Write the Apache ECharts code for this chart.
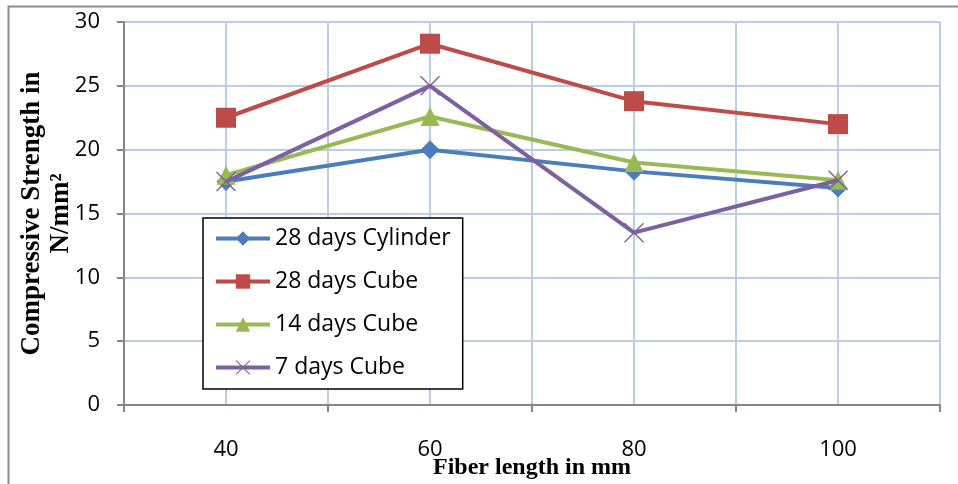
<!DOCTYPE html>
<html><head><meta charset="utf-8">
<script src="https://cdn.jsdelivr.net/npm/echarts@6/dist/echarts.min.js"></script>
<style>html,body{margin:0;padding:0;background:#fff}#c{width:958px;height:484px}</style>
</head><body><div id="c"></div>
<script>
const fiberLengths = [40, 60, 80, 100];
const cyl28 = [17.5, 20.0, 18.3, 17.0];
const cube28 = [22.5, 28.3, 23.8, 22.0];
const cube14 = [18.0, 22.6, 19.0, 17.6];
const cube7 = [17.5, 25.0, 13.5, 17.6];
const seriesNames = ['28 days Cylinder', '28 days Cube', '14 days Cube', '7 days Cube'];
const yTicks = [0, 5, 10, 15, 20, 25, 30];
const xBoundaryTicks = [30, 50, 70, 90, 110];

const colors = ['#4a7ebb', '#be4b48', '#98b954', '#7d60a0'];
const xPath = 'path://M0,1L1,0L10,9L19,0L20,1L11,10L20,19L19,20L10,11L1,20L0,19L9,10Z';
const symbols = ['diamond', 'rect', 'triangle', xPath];
const sizes = [19, 20, 19, 20];
const datasets = [cyl28, cube28, cube14, cube7];
const sansFont = 'Open Sans';

const chart = echarts.init(document.getElementById('c'));
chart.setOption({
  animation: false,
  graphic: [{
    type: 'polyline', shape: {points: [[8.5, 484], [8.5, 6.5], [958, 6.5]]},
    style: {stroke: '#8c8c8c', lineWidth: 2, fill: null}
  }],
  grid: {left: 124, right: 18, top: 22, bottom: 79, outerBoundsMode: 'none', containLabel: false},
  legend: {
    orient: 'vertical', left: 203, top: 218,
    data: seriesNames,
    backgroundColor: '#fff', borderColor: '#000', borderWidth: 1.5,
    padding: [9, 12, 10, 11], itemGap: 20, itemWidth: 54, itemHeight: 18,
    lineStyle: {width: 4},
    textStyle: {fontFamily: sansFont, fontSize: 23, color: '#000'}
  },
  xAxis: [{
    type: 'value', min: 30, max: 110, interval: 10,
    name: 'Fiber length in mm', nameLocation: 'middle', nameGap: 51, nameMoveOverlap: false,
    nameTextStyle: {fontFamily: 'Liberation Serif', fontWeight: 'bold', fontSize: 24, color: '#000'},
    axisLine: {lineStyle: {color: '#868686', width: 2}},
    axisTick: {show: true, length: 7, lineStyle: {color: '#868686', width: 2}, customValues: xBoundaryTicks},
    axisLabel: {customValues: fiberLengths, margin: 34, fontFamily: sansFont, fontSize: 22, color: '#000'},
    splitLine: {show: false}
  }, {
    type: 'value', min: 30, max: 110, interval: 10, position: 'bottom',
    axisLine: {show: false}, axisTick: {show: false}, axisLabel: {show: false},
    splitLine: {show: true, lineStyle: {color: '#b9cde5', width: 2}}
  }],
  yAxis: {
    type: 'value', min: 0, max: 30, interval: 5,
    name: 'Compressive Strength in\nN/mm²', nameLocation: 'middle', nameGap: 48, nameRotate: 90, nameMoveOverlap: false,
    nameTextStyle: {fontFamily: 'Liberation Serif', fontWeight: 'bold', fontSize: 27, color: '#000', lineHeight: 29},
    axisLine: {show: true, lineStyle: {color: '#868686', width: 2}},
    axisTick: {show: true, length: 7, lineStyle: {color: '#868686', width: 2}},
    axisLabel: {margin: 24, fontFamily: sansFont, fontSize: 22, color: '#000',
      formatter: v => yTicks.includes(v) ? String(v) : ''},
    splitLine: {show: true, lineStyle: {color: '#b9cde5', width: 2}}
  },
  series: datasets.map((d, i) => ({
    name: seriesNames[i], type: 'line',
    data: d.map((v, j) => [fiberLengths[j], v]),
    symbol: symbols[i], symbolSize: sizes[i],
    lineStyle: {color: colors[i], width: 4},
    itemStyle: {color: colors[i]},
    z: 2 + i
  }))
});
</script></body></html>
